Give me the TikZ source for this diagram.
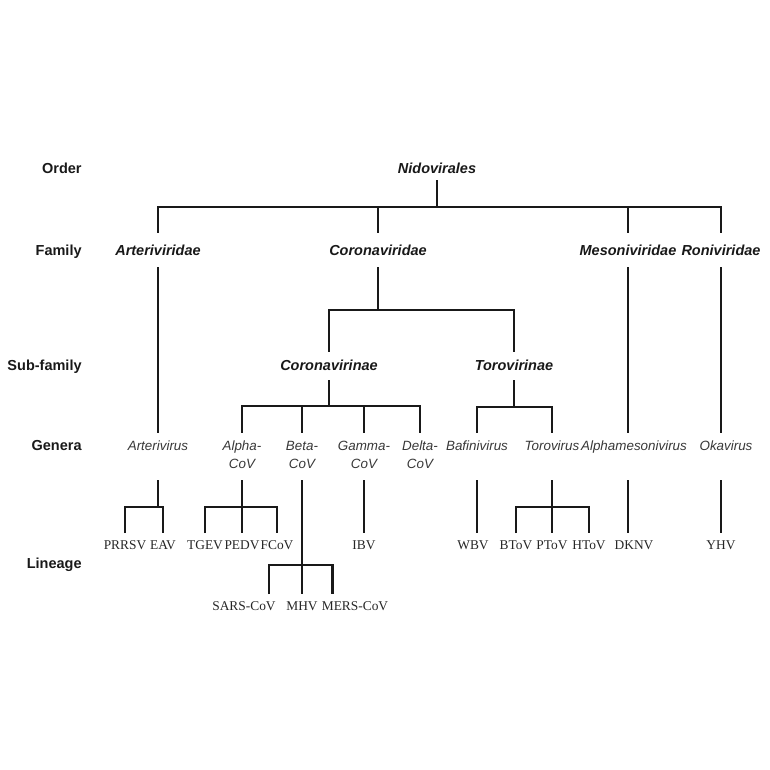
\documentclass[tikz,border=0pt]{standalone}
\usepackage{fontspec}
\setmainfont{Liberation Sans}
\newfontfamily\timesfont{Liberation Serif}
\tikzset{
  rank/.style={font=\fontsize{7.25}{9}\selectfont\bfseries, text=black!90, anchor=base east, inner sep=0pt},
  taxon/.style={font=\fontsize{7.25}{9}\selectfont\bfseries\itshape, text=black!90, anchor=base, inner sep=0pt},
  famtext/.style={taxon, text height=11.25pt, text depth=5.75pt},
  subtext/.style={taxon, text height=9.25pt, text depth=4.75pt},
  genustext/.style={font=\fontsize{6.7}{9}\selectfont\itshape, text=black!78, anchor=base, inner sep=0pt, text height=8.5pt, text depth=15pt},
  straintext/.style={font=\timesfont\fontsize{6.7}{8}\selectfont, text=black!85, anchor=base, inner sep=0pt, text height=7.8pt, text depth=2pt},
  branch/.style={line width=1.35pt, black!90}
}
\begin{document}
\begin{tikzpicture}[x=0.5pt,y=-0.5pt]
  \useasboundingbox (0,0) rectangle (770,770);
  % rank labels on the left
  \node[rank] (order) at (82,173.5) {Order};
  \node[rank] (family) at (82,255.5) {Family};
  \node[rank] (subfamily) at (82,370.5) {Sub-family};
  \node[rank] (genera) at (82,450.5) {Genera};
  \node[rank] (lineage) at (82,568.5) {Lineage};
  % order and families
  \node[taxon, text depth=3.25pt] (nido) at (437,173.5) {Nidovirales};
  \node[famtext] (arte) at (158,255.5) {Arteriviridae};
  \node[famtext] (corv) at (378,255.5) {Coronaviridae};
  \node[famtext] (meso) at (628,255.5) {Mesoniviridae};
  \node[famtext] (roni) at (721,255.5) {Roniviridae};
  % sub-families
  \node[subtext] (cvin) at (329,370.5) {Coronavirinae};
  \node[subtext] (tvin) at (514,370.5) {Torovirinae};
  % genera
  \node[genustext] (artv) at (158,450) {Arterivirus};
  \node[genustext] (alpha) at (242,450) {\begin{tabular}[t]{@{}c@{}}Alpha-\\CoV\end{tabular}};
  \node[genustext] (beta) at (302,450) {\begin{tabular}[t]{@{}c@{}}Beta-\\CoV\end{tabular}};
  \node[genustext] (gamma) at (364,450) {\begin{tabular}[t]{@{}c@{}}Gamma-\\CoV\end{tabular}};
  \node[genustext] (delta) at (420,450) {\begin{tabular}[t]{@{}c@{}}Delta-\\CoV\end{tabular}};
  \node[genustext] (bafi) at (477,450) {Bafinivirus};
  \node[genustext] (toro) at (552,450) {Torovirus};
  \node[genustext] (alme) at (634,450) {Alphamesonivirus};
  \node[genustext] (okav) at (726,450) {Okavirus};
  % lineages
  \node[straintext] (prrsv) at (125,549) {PRRSV};
  \node[straintext] (eav) at (163,549) {EAV};
  \node[straintext] (tgev) at (205,549) {TGEV};
  \node[straintext] (pedv) at (242,549) {PEDV};
  \node[straintext] (fcov) at (277,549) {FCoV};
  \node[straintext] (ibv) at (364,549) {IBV};
  \node[straintext] (wbv) at (473,549) {WBV};
  \node[straintext] (btov) at (516,549) {BToV};
  \node[straintext] (ptov) at (552,549) {PToV};
  \node[straintext] (htov) at (589,549) {HToV};
  \node[straintext] (dknv) at (634,549) {DKNV};
  \node[straintext] (yhv) at (721,549) {YHV};
  \node[straintext] (sars) at (244,610) {SARS-CoV};
  \node[straintext] (mhv) at (302,610) {MHV};
  \node[straintext] (mers) at (355,610) {MERS-CoV};
  % order to families
  \coordinate (nidobar) at (437,207);
  \draw[branch] (nido.south) -- (nidobar);
  \draw[branch] (arte.north) |- (nidobar) -| (roni.north);
  \draw[branch] (corv.north) -- (corv.north |- nidobar);
  \draw[branch] (meso.north) -- (meso.north |- nidobar);
  % families to sub-families and genera
  \draw[branch] (arte.south) -- (artv.north);
  \draw[branch] (meso.south) -- (meso.south |- alme.north);
  \draw[branch] (roni.south) -- (roni.south |- okav.north);
  \coordinate (corvbar) at (378,310);
  \draw[branch] (corv.south) -- (corvbar);
  \draw[branch] (cvin.north) |- (corvbar) -| (tvin.north);
  \coordinate (cvinbar) at (329,406);
  \draw[branch] (cvin.south) -- (cvinbar);
  \draw[branch] (alpha.north) |- (cvinbar) -| (delta.north);
  \draw[branch] (beta.north) -- (beta.north |- cvinbar);
  \draw[branch] (gamma.north) -- (gamma.north |- cvinbar);
  \coordinate (tvinbar) at (514,407);
  \draw[branch] (tvin.south) -- (tvinbar);
  \draw[branch] (bafi.north) |- (tvinbar) -| (toro.north);
  % genera to lineages
  \coordinate (artvbar) at (158,507);
  \draw[branch] (artv.south) -- (artvbar);
  \draw[branch] (prrsv.north) |- (artvbar) -| (eav.north);
  \coordinate (alphabar) at (242,507);
  \draw[branch] (alpha.south) -- (pedv.north);
  \draw[branch] (tgev.north) |- (alphabar) -| (fcov.north);
  \coordinate (betabar) at (302,565);
  \draw[branch] (beta.south) -- (mhv.north);
  \draw[branch] ([xshift=-3.5pt]sars.north east) |- (betabar) -| ([xshift=5.5pt]mers.north west);
  \draw[branch] (gamma.south) -- (ibv.north);
  \draw[branch] (bafi.south) -- (bafi.south |- wbv.north);
  \coordinate (torobar) at (552,507);
  \draw[branch] (toro.south) -- (ptov.north);
  \draw[branch] (btov.north) |- (torobar) -| (htov.north);
  \draw[branch] (alme.south -| meso) -- (dknv.north -| meso);
  \draw[branch] (okav.south -| roni) -- (yhv.north -| roni);
\end{tikzpicture}
\end{document}
